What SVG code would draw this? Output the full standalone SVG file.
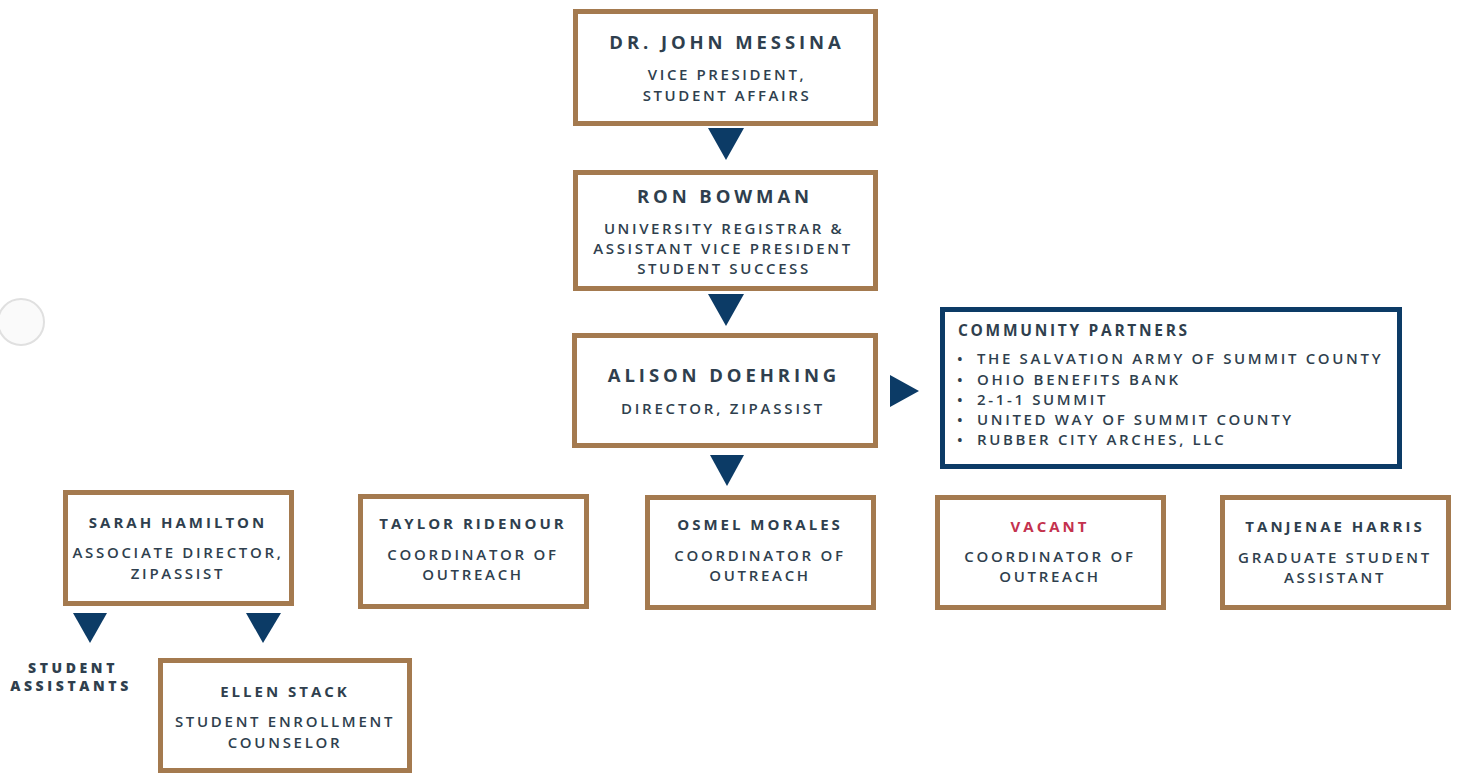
<svg xmlns="http://www.w3.org/2000/svg" width="1457" height="773" viewBox="0 0 1457 773">
<style>
.box{fill:#fff;stroke:#a47a4f;stroke-width:5}
.cbox{fill:#fff;stroke:#0c3b66;stroke-width:5}
.arr{fill:#0c3b66}
text{font-family:"Open Sans","Liberation Sans",sans-serif;fill:#2f3f4e;text-anchor:middle}
.nm{font-size:18.5px;font-weight:700;letter-spacing:3.9px}
.nm2{font-size:15px;font-weight:700;letter-spacing:3px}
.sb{font-size:15px;font-weight:600;letter-spacing:2.6px}
.sb2{font-size:15px;font-weight:600;letter-spacing:2.7px}
.li{font-size:15px;font-weight:600;letter-spacing:2.65px;text-anchor:start}
.hd{font-size:15.5px;font-weight:700;letter-spacing:2.7px;text-anchor:start}
.sa{font-size:14px;font-weight:800;letter-spacing:3.6px}
.red{fill:#c4324e}
</style>
<rect width="1457" height="773" fill="#fff"/>
<circle cx="21" cy="322" r="23" fill="#fafafa" stroke="#e0e0e0" stroke-width="2"/>
<g id="connectors">
<polygon class="arr" points="708,128 744,128 726,160"/>
<polygon class="arr" points="708,294 744,294 726,326"/>
<polygon class="arr" points="710,455 744,455 727,486"/>
<polygon class="arr" points="890,375 890,407 919,391"/>
<polygon class="arr" points="73,613 107,613 90,643"/>
<polygon class="arr" points="246,613 281,613 263,643"/>
</g>
<g id="messina">
<rect class="box" x="575.5" y="11.5" width="300" height="112"/>
<text class="nm" x="727" y="49">DR. JOHN MESSINA</text>
<text class="sb" x="727" y="80">VICE PRESIDENT,</text>
<text class="sb" x="727" y="101">STUDENT AFFAIRS</text>
</g>
<g id="bowman">
<rect class="box" x="575.5" y="172.5" width="300" height="116"/>
<text class="nm" x="725" y="203">RON BOWMAN</text>
<text class="sb" x="724" y="234">UNIVERSITY REGISTRAR &amp;</text>
<text class="sb" x="723" y="254">ASSISTANT VICE PRESIDENT</text>
<text class="sb" x="724" y="274">STUDENT SUCCESS</text>
</g>
<g id="doehring">
<rect class="box" x="574.5" y="335.5" width="301" height="110"/>
<text class="nm" x="724" y="382">ALISON DOEHRING</text>
<text class="sb" x="723" y="414" style="letter-spacing:2.8px">DIRECTOR, ZIPASSIST</text>
</g>
<g id="community">
<rect class="cbox" x="942.5" y="309.5" width="457" height="157"/>
<text class="hd" x="958" y="336">COMMUNITY PARTNERS</text>
<text class="li" x="957" y="364">•</text><text class="li" x="977" y="364">THE SALVATION ARMY OF SUMMIT COUNTY</text>
<text class="li" x="957" y="385">•</text><text class="li" x="977" y="385">OHIO BENEFITS BANK</text>
<text class="li" x="957" y="405">•</text><text class="li" x="977" y="405">2-1-1 SUMMIT</text>
<text class="li" x="957" y="425">•</text><text class="li" x="977" y="425">UNITED WAY OF SUMMIT COUNTY</text>
<text class="li" x="957" y="445">•</text><text class="li" x="977" y="445">RUBBER CITY ARCHES, LLC</text>
</g>
<g id="hamilton">
<rect class="box" x="65.5" y="492.5" width="226" height="111"/>
<text class="nm2" x="178" y="528">SARAH HAMILTON</text>
<text class="sb2" x="178" y="558">ASSOCIATE DIRECTOR,</text>
<text class="sb2" x="178" y="579">ZIPASSIST</text>
</g>
<g id="ridenour">
<rect class="box" x="360.5" y="496.5" width="226" height="110"/>
<text class="nm2" x="473" y="529">TAYLOR RIDENOUR</text>
<text class="sb2" x="473" y="560">COORDINATOR OF</text>
<text class="sb2" x="473" y="580">OUTREACH</text>
</g>
<g id="morales">
<rect class="box" x="647.5" y="497.5" width="226" height="110"/>
<text class="nm2" x="760" y="530">OSMEL MORALES</text>
<text class="sb2" x="760" y="561">COORDINATOR OF</text>
<text class="sb2" x="760" y="581">OUTREACH</text>
</g>
<g id="vacant">
<rect class="box" x="937.5" y="497.5" width="226" height="110"/>
<text class="nm2 red" x="1050" y="532">VACANT</text>
<text class="sb2" x="1050" y="562">COORDINATOR OF</text>
<text class="sb2" x="1050" y="582">OUTREACH</text>
</g>
<g id="harris">
<rect class="box" x="1222.5" y="497.5" width="226" height="110"/>
<text class="nm2" x="1335" y="532">TANJENAE HARRIS</text>
<text class="sb2" x="1335" y="563">GRADUATE STUDENT</text>
<text class="sb2" x="1335" y="583">ASSISTANT</text>
</g>
<g id="student-assistants">
<text class="sa" x="73" y="673">STUDENT</text>
<text class="sa" x="71" y="691">ASSISTANTS</text>
</g>
<g id="stack">
<rect class="box" x="160.5" y="660.5" width="249" height="110"/>
<text class="nm2" x="285" y="697">ELLEN STACK</text>
<text class="sb2" x="285" y="727">STUDENT ENROLLMENT</text>
<text class="sb2" x="285" y="748">COUNSELOR</text>
</g>
</svg>
